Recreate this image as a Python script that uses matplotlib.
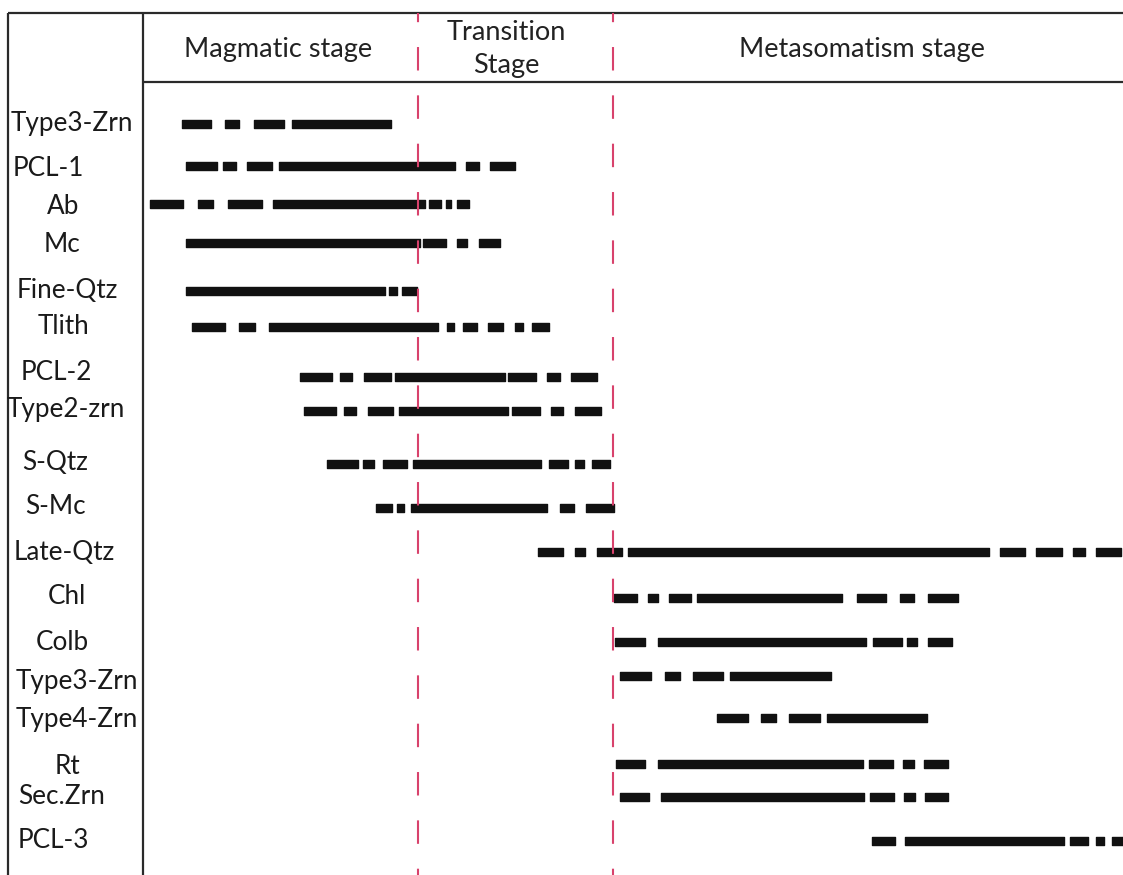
import matplotlib
matplotlib.use("Agg")
import matplotlib.pyplot as plt

# mineral paragenesis: each row is a list of (start, end) segments along the
# stage axis (same units as the frame, 0..1123 across the sheet)
minerals = ["Type3-Zrn", "PCL-1", "Ab", "Mc", "Fine-Qtz", "Tlith", "PCL-2",
            "Type2-zrn", "S-Qtz", "S-Mc", "Late-Qtz", "Chl", "Colb",
            "Type3-Zrn", "Type4-Zrn", "Rt", "Sec.Zrn", "PCL-3"]

type3_zrn_a = [(182, 211), (225, 239), (254, 284), (292, 391)]
pcl_1 = [(186, 217), (223, 236), (247, 272), (279, 455), (466, 479), (490, 515)]
ab = [(150, 183), (198, 213), (228, 262), (273, 425), (429, 441), (446, 451), (457, 469)]
mc = [(186, 420), (423, 446), (457, 467), (479, 500)]
fine_qtz = [(186, 385), (389, 397), (402, 417)]
tlith = [(192, 225), (239, 255), (269, 438), (447, 454), (463, 477), (488, 503),
         (515, 523), (532, 549)]
pcl_2 = [(300, 332), (340, 352), (364, 391), (395, 505), (508, 536), (547, 560), (571, 597)]
type2_zrn = [(304, 336), (344, 356), (368, 393), (399, 508), (512, 540), (551, 563), (575, 601)]
s_qtz = [(327, 358), (363, 374), (383, 407), (413, 541), (549, 568), (575, 584), (592, 610)]
s_mc = [(376, 392), (397, 404), (411, 547), (560, 574), (586, 614)]
late_qtz = [(538, 563), (575, 585), (597, 622), (628, 989), (1000, 1025), (1036, 1062),
            (1073, 1085), (1096, 1121)]
chl = [(614, 637), (648, 658), (669, 691), (697, 842), (857, 886), (900, 914), (928, 958)]
colb = [(615, 645), (658, 866), (873, 902), (907, 917), (928, 952)]
type3_zrn_b = [(620, 651), (665, 680), (693, 723), (730, 831)]
type4_zrn = [(717, 748), (761, 776), (789, 820), (827, 927)]
rt = [(616, 645), (658, 863), (869, 893), (903, 914), (924, 948)]
sec_zrn = [(620, 649), (661, 864), (870, 894), (904, 915), (925, 948)]
pcl_3 = [(872, 895), (905, 1064), (1070, 1088), (1096, 1104), (1112, 1123)]

segments = [type3_zrn_a, pcl_1, ab, mc, fine_qtz, tlith, pcl_2, type2_zrn, s_qtz,
            s_mc, late_qtz, chl, colb, type3_zrn_b, type4_zrn, rt, sec_zrn, pcl_3]

stages = ["Magmatic stage", "Transition\nStage", "Metasomatism stage"]
stage_bounds = [418, 613]

# layout (pixel frame)
W, H = 1123, 875
row_y = [124, 166, 204, 243, 291, 327, 377, 411, 464, 508, 552, 598, 642, 676,
         718, 764, 797, 841]
label_y = [124, 168, 207, 244, 290, 326, 373, 410, 463, 507, 552, 597, 642, 681,
           719, 766, 796, 840]
label_x = [72, 48, 63, 62, 67, 64, 56, 66, 55, 55, 64, 67, 62, 77, 77, 67, 62, 53]
stage_x = [278, 506, 862]
bar_h = 7.5

plt.rcParams["font.family"] = ["Lato", "DejaVu Sans"]
plt.rcParams["lines.scale_dashes"] = False

fig = plt.figure(figsize=(W / 100, H / 100), dpi=100)
ax = fig.add_axes([0, 0, 1, 1])
ax.set_xlim(0, W)
ax.set_ylim(H, 0)
ax.axis("off")

# frame
frame_kw = dict(color="#2a2a2a", lw=1.6, solid_capstyle="butt")
ax.plot([8, W], [13, 13], **frame_kw)
ax.plot([8, 8], [13, H], **frame_kw)
ax.plot([143, 143], [13, H], **frame_kw)
ax.plot([143, W], [82, 82], **frame_kw)

# stage headers
for x, name in zip(stage_x, stages):
    ax.text(x, 49, name, ha="center", va="center", fontsize=19.5,
            color="#222222", linespacing=1.35)

# mineral names and their time bars
for name, lx, ly, y, segs in zip(minerals, label_x, label_y, row_y, segments):
    ax.text(lx, ly, name, ha="center", va="center", fontsize=18.8, color="#1a1a1a")
    ax.broken_barh([(a, b - a) for a, b in segs], (y - bar_h / 2, bar_h),
                   color="#111111", zorder=2)

# stage boundaries, dashes start on the top rule
for x in stage_bounds:
    ax.plot([x, x], [13, H], color="#d8426c", lw=1.5,
            linestyle=(10.3, (16.9, 17.9)), zorder=3)

fig.savefig("out.png", dpi=100)
